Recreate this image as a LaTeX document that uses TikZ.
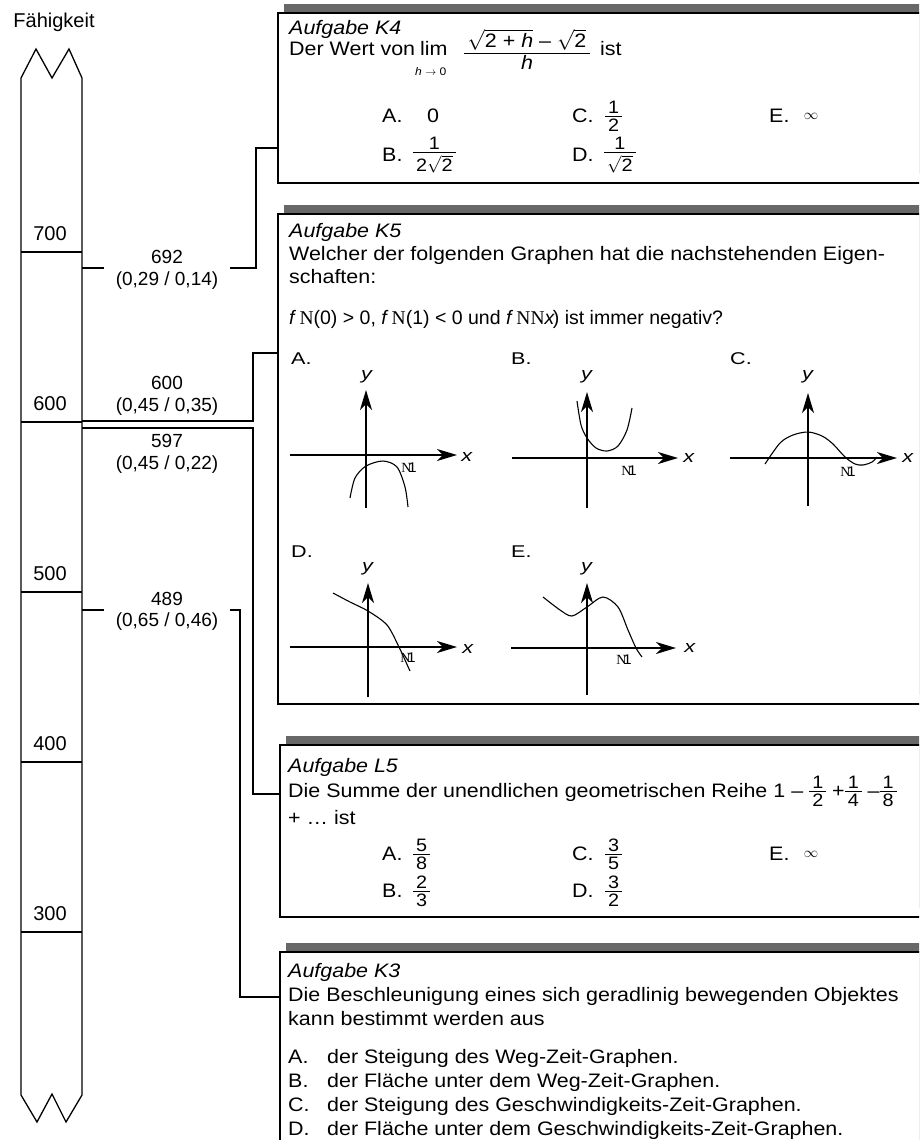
\documentclass[tikz,border=0pt]{standalone}
\usepackage{amsmath}
\usepackage{fontspec}
\setmainfont{Liberation Sans}[FakeStretch=1.1]
\newfontfamily\lblfont{Liberation Sans}
\newfontfamily\gfont{Liberation Sans}[FakeStretch=1.27]
\newfontfamily\nfont{Liberation Serif}
\usetikzlibrary{arrows.meta, shadows}
\definecolor{ShadowGray}{RGB}{104,104,104}

% stacked fraction, denominator on the baseline
\newcommand{\fr}[2]{\vbox{\offinterlineskip\halign{\hfil##\hfil\cr
  \,#1\,\cr\noalign{\kern2.2pt\hrule height0.7pt\kern2.4pt}\,#2\,\cr}}}
% smaller one, centred on the line
\newcommand{\cfr}[2]{\raise1.5pt\hbox{\fontsize{18}{20}\selectfont$\vcenter{\hbox{\fr{#1}{#2}}}$}}
\newcommand{\nmark}{{\nfont N}\kern-3.5pt 1}

\begin{document}
\begin{tikzpicture}[x=1pt, y=-1pt,
    txt/.style={anchor=base west, inner sep=0pt, font=\fontsize{19.5}{23.5}\selectfont},
    ttl/.style={txt, font=\fontsize{19.5}{23.5}\selectfont\itshape},
    glbl/.style={anchor=base west, inner sep=0pt, font=\gfont\fontsize{17}{19}\selectfont},
    lbl/.style={align=center, inner xsep=12pt, inner ysep=0pt,
                font=\lblfont\fontsize{19}{21.5}\selectfont},
    ticklbl/.style={inner sep=0pt, font=\lblfont\fontsize{20}{22}\selectfont},
    taskbox/.style={draw, fill=white, line width=1.5pt, anchor=north west,
                    inner sep=0pt, outer sep=0pt, minimum width=660pt,
                    drop shadow={shadow xshift=6pt, shadow yshift=9pt,
                                 fill=ShadowGray, opacity=1}},
    colline/.style={line width=1.3pt},
    conn/.style={line width=1.3pt},
    axisarr/.style={line width=1.5pt, -{Stealth[length=20pt, width=12pt, inset=6pt]}},
    graphline/.style={line width=1.1pt},
    nm/.style={inner sep=0pt, font=\fontsize{14}{15}\selectfont},
    inf/.style={inner sep=0pt, font=\fontsize{15}{16}\selectfont}
  ]
  \useasboundingbox (0,0) rectangle (919,1140);
  \fill[white] (0,0) rectangle (919,1140);
  \clip (0,0) rectangle (919,1140);

  % ability scale
  \node[ticklbl, anchor=base] (cap) at (54,28) {Fähigkeit};
  \draw[colline] (21,78) -- (36,49) -- (52,78) -- (69,49) -- (82,78)
    -- (82,1095) -- (66,1122) -- (52,1094) -- (37,1122) -- (21,1095) -- cycle;
  \foreach \v in {700,600,500,400,300} {
    \pgfmathsetmacro\ty{252+(700-\v)*1.7}
    \draw[colline] (21,\ty) -- (82,\ty);
    \node[ticklbl] (t\v) at (50,\ty-18) {\v};
  }

  % task boxes
  \node[taskbox, minimum height=170pt] (k4) at (278,13) {};
  \node[taskbox, minimum height=490pt] (k5) at (278,214) {};
  \node[taskbox, minimum height=172pt] (l5) at (280,745) {};
  \node[taskbox, minimum height=200pt] (k3) at (280,952) {};

  % connectors
  \coordinate (s692) at (82,268);  \coordinate (j692) at (256,148);
  \coordinate (s600) at (82,421);  \coordinate (j600) at (253,353);
  \coordinate (s597) at (82,428);  \coordinate (j597) at (253,794);
  \coordinate (s489) at (82,610);  \coordinate (j489) at (240,997);
  \node[lbl] (l692) at (167,270) {692\\(0,29 / 0,14)};
  \node[lbl] (l600) at (167,396) {600\\(0,45 / 0,35)};
  \node[lbl] (l597) at (167,454) {597\\(0,45 / 0,22)};
  \node[lbl] (l489) at (167,611.5) {489\\(0,65 / 0,46)};
  \draw[conn] (s692) -- (s692 -| l692.west);
  \draw[conn] (s692 -| l692.east) -| (j692) -- (j692 -| k4.west);
  \draw[conn] (s600) -| (j600) -- (j600 -| k5.west);
  \draw[conn] (s597) -| (j597) -- (j597 -| l5.west);
  \draw[conn] (s489) -- (s489 -| l489.west);
  \draw[conn] (s489 -| l489.east) -| (j489) -- (j489 -| k3.west);

  % Aufgabe K4
  \node[ttl] (k4t) at (289,35) {Aufgabe K4};
  \node[txt] (k4q) at (289,56) {Der Wert von};
  \node[txt] (k4lim) at (420,56) {lim};
  \node[txt, font=\fontsize{11}{12}\selectfont] (k4sub) at (415,75) {\textit{h} $\rightarrow$ 0};
  \node[txt, anchor=base] (k4fr) at (527,70)
    {\fr{$\sqrt{\mbox{2 + \textit{h}}}$ – $\sqrt{\mbox{2}}$}{\textit{h}}};
  \node[txt] (k4ist) at (600,56) {ist};
  \node[txt] (k4a) at (382,122) {A.};
  \node[txt] (k4av) at (427,122) {0};
  \node[txt] (k4c) at (572,122) {C.};
  \node[txt] (k4cv) at (605,122) {\cfr{1}{2}};
  \node[txt] (k4e) at (769,122) {E.};
  \node[inf] (k4ev) at (811,116) {$\infty$};
  \node[txt] (k4b) at (382,161) {B.};
  \node[txt] (k4bv) at (413,161) {\cfr{1}{2$\sqrt{\mbox{2}}$}};
  \node[txt] (k4d) at (572,161) {D.};
  \node[txt] (k4dv) at (604,161) {\cfr{1}{$\sqrt{\mbox{2}}$}};

  % Aufgabe K5
  \node[ttl] (k5t) at (289,237) {Aufgabe K5};
  \node[txt] (k5q1) at (289,260) {Welcher der folgenden Graphen hat die nachstehenden Eigen-};
  \node[txt] (k5q2) at (289,283) {schaften:};
  \node[txt, font=\lblfont\fontsize{19.5}{23.5}\selectfont] (k5q3) at (289,324)
    {\textit{f}\,{\nfont N}(0) > 0, \textit{f}\,{\nfont N}(1) < 0
    und \textit{f}\,{\nfont NN}\textit{x}\kern-2pt) ist immer negativ?};
  \node[glbl] (ga) at (291,364) {A.};
  \node[glbl] (gb) at (511,364) {B.};
  \node[glbl] (gc) at (730,364) {C.};
  \node[glbl] (gd) at (291,557) {D.};
  \node[glbl] (ge) at (511,557) {E.};

  \begin{scope}[shift={(366,455)}]
    \draw[axisarr] (0,53) -- (0,-65);
    \draw[axisarr] (-76,0) -- (91,0);
    \node[glbl, anchor=center] (ay) at (1,-78) {\textit{y}};
    \node[glbl, anchor=center] (ax) at (101,2) {\textit{x}};
    \node[nm] (an) at (43,13) {\nmark};
    \draw[graphline] plot[smooth] coordinates
      {(-16,43) (-11,23) (0,11) (17,6) (31,12) (39,32) (42,52)};
  \end{scope}
  \begin{scope}[shift={(587,458)}]
    \draw[axisarr] (0,50) -- (0,-66);
    \draw[axisarr] (-75,0) -- (91,0);
    \node[glbl, anchor=center] (by) at (0,-81) {\textit{y}};
    \node[glbl, anchor=center] (bx) at (102,0) {\textit{x}};
    \node[nm] (bn) at (42,13) {\nmark};
    \draw[graphline] plot[smooth] coordinates
      {(-10,-57) (-6,-33) (0,-20) (9,-10) (20,-7) (31,-12) (40,-28) (45,-50)};
  \end{scope}
  \begin{scope}[shift={(808,458)}]
    \draw[axisarr] (0,48) -- (0,-65);
    \draw[axisarr] (-78,0) -- (89,0);
    \node[glbl, anchor=center] (cy) at (0,-81) {\textit{y}};
    \node[glbl, anchor=center] (cx) at (100,0) {\textit{x}};
    \node[nm] (cn) at (40,14) {\nmark};
    \draw[graphline] plot[smooth] coordinates
      {(-43,6) (-28,-15) (-15,-23) (0,-26) (14,-22) (25,-14) (37,-1) (47,6) (55,7) (64,4) (69,-1)};
  \end{scope}
  \begin{scope}[shift={(368,647)}]
    \draw[axisarr] (0,50) -- (0,-64);
    \draw[axisarr] (-78,0) -- (89,0);
    \node[glbl, anchor=center] (dy) at (0,-78) {\textit{y}};
    \node[glbl, anchor=center] (dx) at (100,2) {\textit{x}};
    \node[nm] (dn) at (40,11) {\nmark};
    \draw[graphline] plot[smooth] coordinates
      {(-35,-54) (-18,-45) (0,-36) (19,-22) (31,0) (37,13) (42,24)};
  \end{scope}
  \begin{scope}[shift={(587,648)}]
    \draw[axisarr] (0,47) -- (0,-65);
    \draw[axisarr] (-76,0) -- (89,0);
    \node[glbl, anchor=center] (ey) at (0,-79) {\textit{y}};
    \node[glbl, anchor=center] (ex) at (103,0) {\textit{x}};
    \node[nm] (en) at (37,12) {\nmark};
    \draw[graphline] plot[smooth] coordinates
      {(-44,-51) (-27,-38) (-15,-32) (0,-41) (16,-51) (31,-41) (41,-18) (49,0) (55,9)};
  \end{scope}

  % Aufgabe L5
  \node[ttl] (l5t) at (288,772) {Aufgabe L5};
  \node[txt] (l5q1) at (288,797) {Die Summe der unendlichen geometrischen Reihe 1 –
    \cfr{1}{2} +\cfr{1}{4} –\cfr{1}{8}};
  \node[txt] (l5q2) at (288,824) {+ … ist};
  \node[txt] (l5a) at (382,860) {A.};
  \node[txt] (l5av) at (413,860) {\cfr{5}{8}};
  \node[txt] (l5c) at (572,860) {C.};
  \node[txt] (l5cv) at (605,860) {\cfr{3}{5}};
  \node[txt] (l5e) at (769,860) {E.};
  \node[inf] (l5ev) at (811,854) {$\infty$};
  \node[txt] (l5b) at (382,897) {B.};
  \node[txt] (l5bv) at (413,897) {\cfr{2}{3}};
  \node[txt] (l5d) at (572,897) {D.};
  \node[txt] (l5dv) at (605,897) {\cfr{3}{2}};

  % Aufgabe K3
  \node[ttl] (k3t) at (288,977) {Aufgabe K3};
  \node[txt] (k3q1) at (288,1001) {Die Beschleunigung eines sich geradlinig bewegenden Objektes};
  \node[txt] (k3q2) at (288,1025) {kann bestimmt werden aus};
  \foreach \lt/\opt [count=\i from 0] in {A./der Steigung des Weg-Zeit-Graphen.,
      B./der Fläche unter dem Weg-Zeit-Graphen.,
      C./der Steigung des Geschwindigkeits-Zeit-Graphen.,
      D./der Fläche unter dem Geschwindigkeits-Zeit-Graphen.} {
    \node[txt] (k3l\i) at (288,1063+24*\i) {\lt};
    \node[txt] (k3o\i) at (327,1063+24*\i) {\opt};
  }
\end{tikzpicture}
\end{document}
